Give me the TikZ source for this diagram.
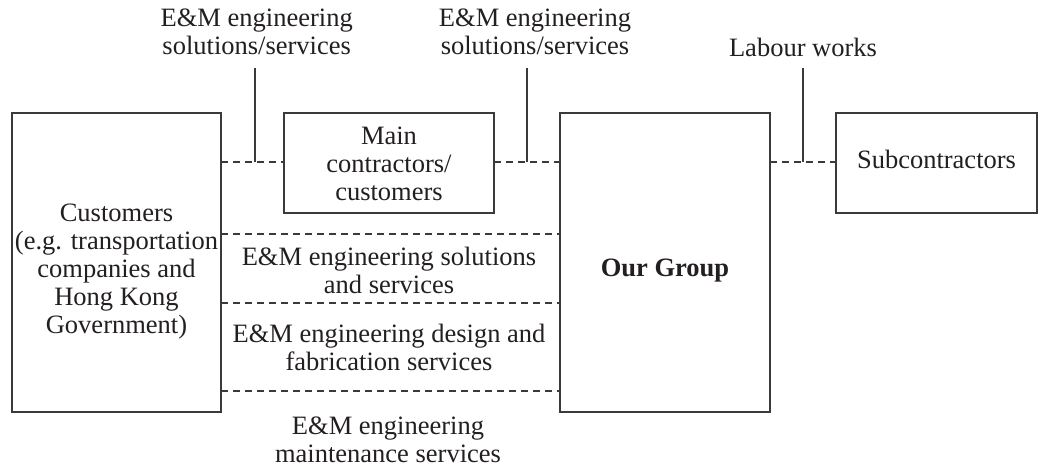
\documentclass[tikz,border=0pt]{standalone}
\usepackage{fontspec}
\setmainfont{Liberation Serif}
\definecolor{ink}{HTML}{231F20}
\definecolor{rule}{HTML}{3A3A3A}
\begin{document}
\begin{tikzpicture}[x=1pt,y=1pt,
  every node/.style={text=ink, font=\fontsize{26.5}{28}\selectfont},
  txt/.style={align=center, inner sep=0pt,
    execute at begin node=\strut, execute at end node=\strut},
  box/.style={draw=rule, line width=1.1pt, inner sep=0pt, outer sep=0pt, align=center},
  dashline/.style={draw=rule, line width=1.1pt, dash pattern=on 7pt off 5pt},
  leader/.style={draw=rule, line width=1.1pt}]
\useasboundingbox (0,0) rectangle (1039,-467);

% parties (a taller first line pushes the text block down inside its box)
\node[box, txt, minimum width=209pt, minimum height=299pt] (cust) at (116.5,-262.5)
  {\rule{0pt}{37.6pt}Customers\\(e.g. transportation\\companies and\\Hong Kong\\Government)};
\node[box, txt, minimum width=210pt, minimum height=100pt] (main) at (389,-163)
  {\rule{0pt}{27.6pt}Main\\contractors/\\customers};
\node[box, minimum width=210pt, minimum height=299pt] (grp) at (665,-262.5)
  {\raisebox{-14pt}[0pt][0pt]{\bfseries Our Group}};
\node[box, txt, minimum width=201pt, minimum height=100pt] (sub) at (936.5,-163)
  {Subcontractors};

% service labels
\node[txt] (lab1) at (256.7,-35.4) {E\&M engineering\\solutions/services};
\node[txt] (lab2) at (535,-35.4) {E\&M engineering\\solutions/services};
\node[txt] (lab3) at (803,-50.4) {Labour works};
\node[txt] (lab4) at (389,-274) {E\&M engineering solutions\\and services};
\node[txt] (lab5) at (389,-351.8) {E\&M engineering design and\\fabrication services};
\node[txt] (lab6) at (388,-443.4) {E\&M engineering\\maintenance services};

% levels of the dashed links
\coordinate (r1) at (0,-162);
\coordinate (r2) at (0,-234);
\coordinate (r3) at (0,-303);
\coordinate (r4) at (0,-391);
% tops of the label leaders
\coordinate (t1) at (255,-68);
\coordinate (t2) at (527,-68);
\coordinate (t3) at (803,-68);

% links
\draw[dashline] (cust.east |- r1) -- (main.west |- r1);
\draw[dashline] (main.east |- r1) -- (grp.west |- r1);
\draw[dashline] (grp.east |- r1) -- (sub.west |- r1);
\draw[dashline] (cust.east |- r2) -- (grp.west |- r2);
\draw[dashline] (cust.east |- r3) -- (grp.west |- r3);
\draw[dashline] (cust.east |- r4) -- (grp.west |- r4);

% leaders from labels down to the links
\draw[leader] (t1) -- (t1 |- r1);
\draw[leader] (t2) -- (t2 |- r1);
\draw[leader] (t3) -- (t3 |- r1);
\end{tikzpicture}
\end{document}
